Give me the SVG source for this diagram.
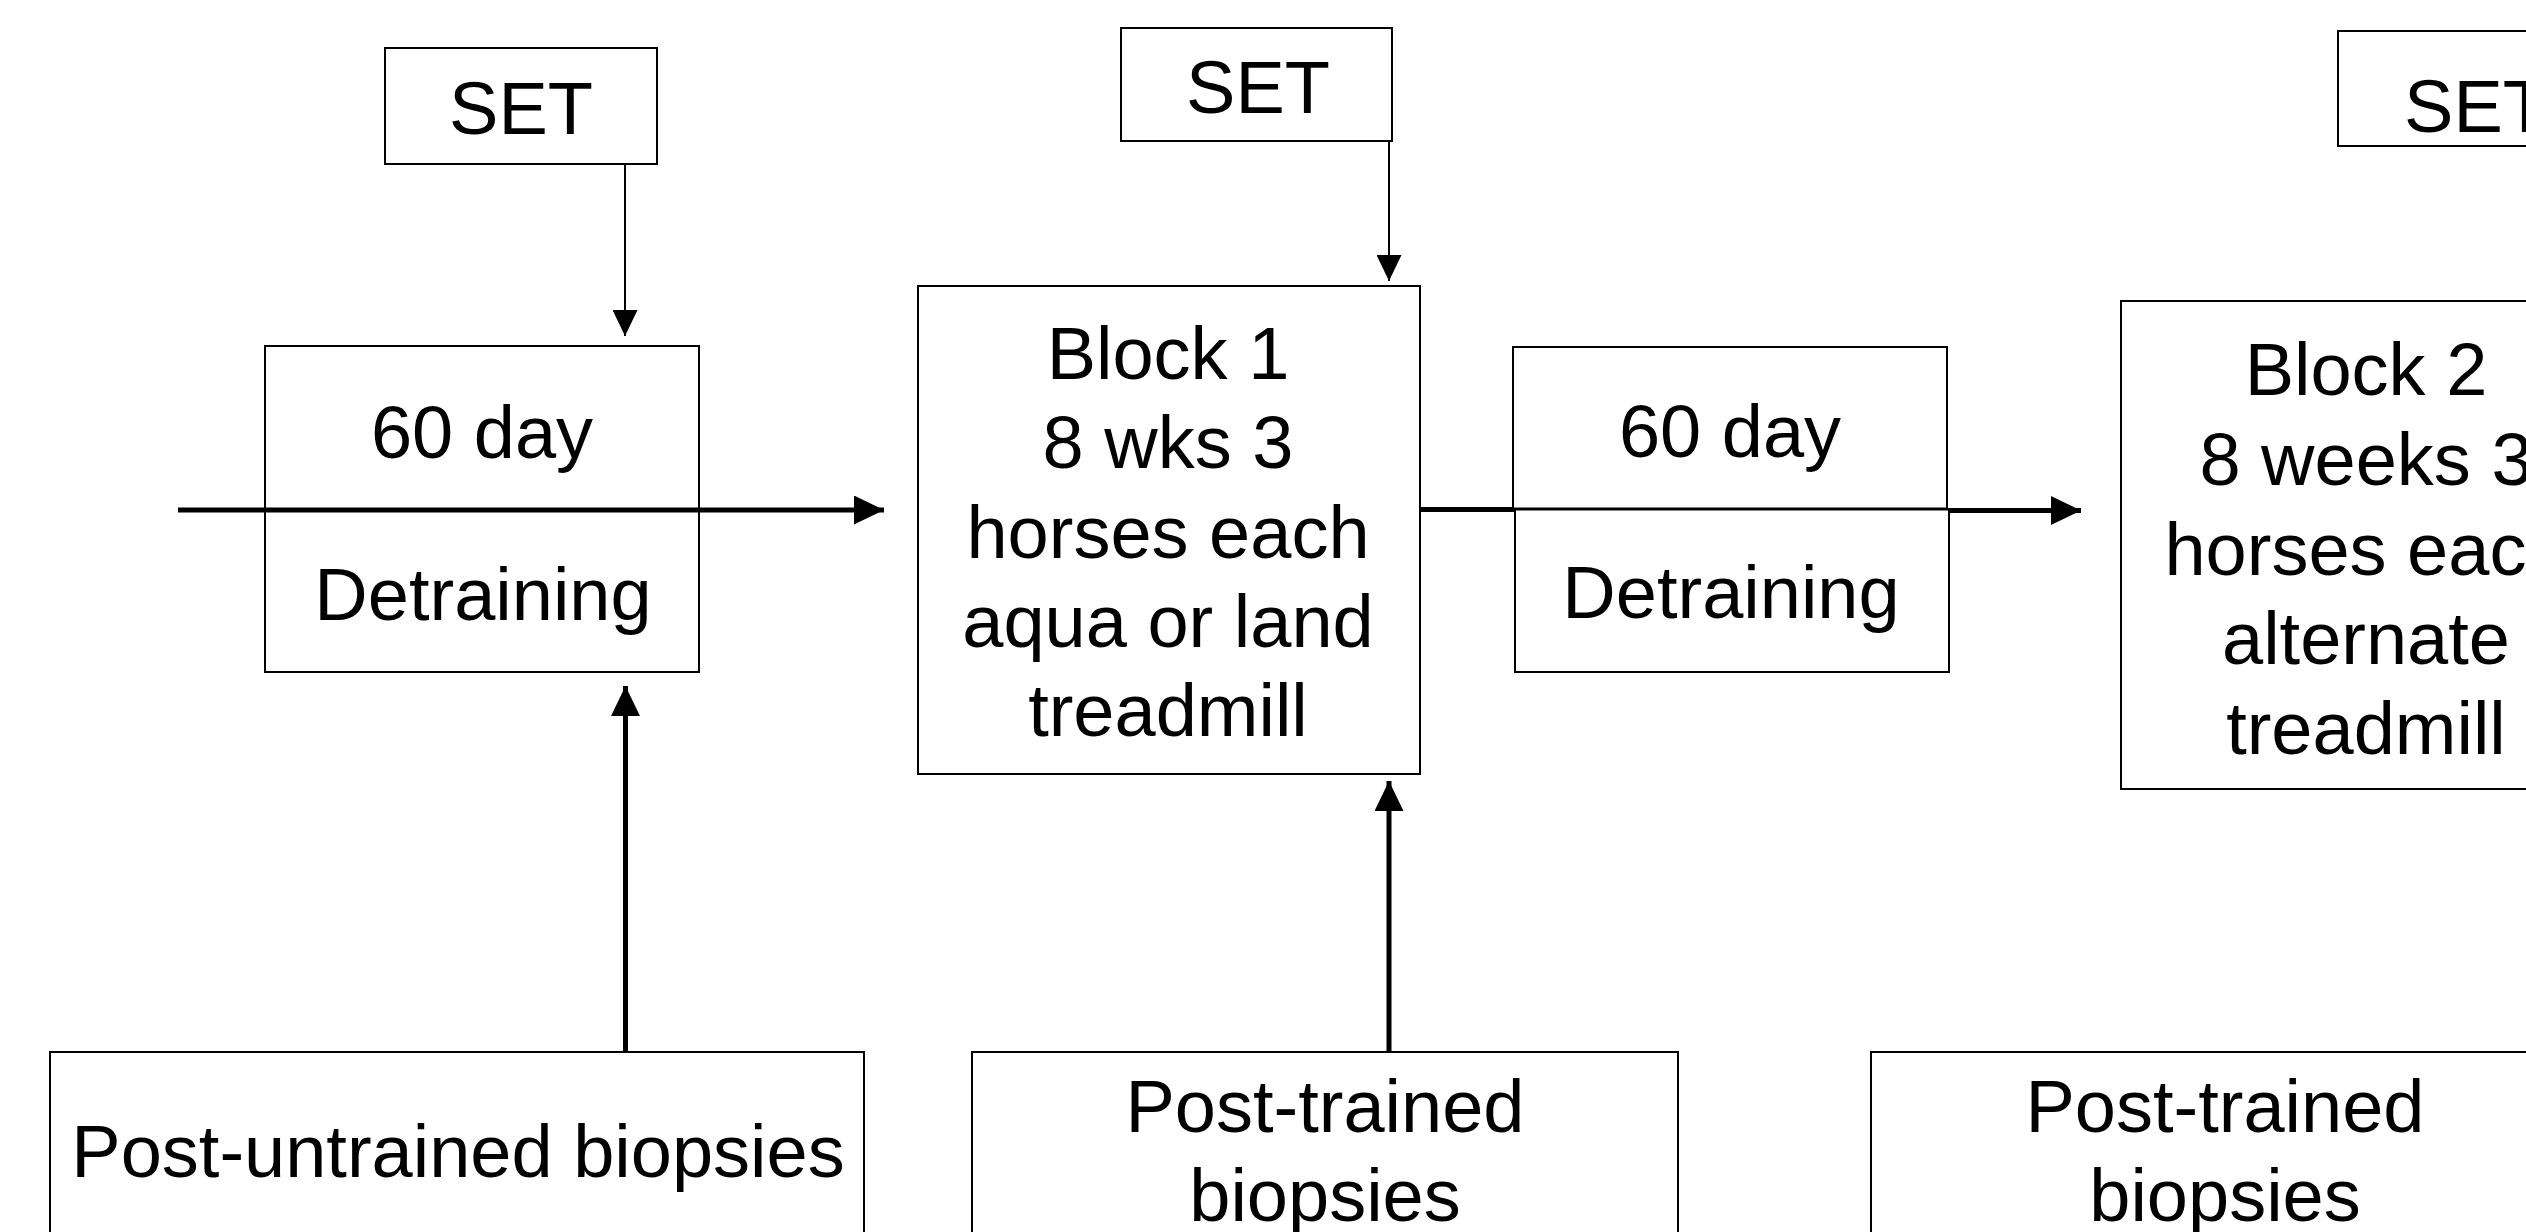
<svg xmlns="http://www.w3.org/2000/svg" width="2526" height="1232" viewBox="0 0 2526 1232">
<style>
.box{fill:#fff;stroke:#000;stroke-width:2}
.t{font-family:"Liberation Sans",Arial,sans-serif;font-size:74px;fill:#000;text-anchor:middle}
.thin{stroke:#000;stroke-width:2;fill:none}
.thick{stroke:#000;stroke-width:5;fill:none}
</style>
<defs>
<marker id="ah" viewBox="0 0 26 25" refX="26" refY="12.5" markerWidth="26" markerHeight="25" markerUnits="userSpaceOnUse" orient="auto"><path d="M0,0L26,12.5L0,25Z" fill="#000"/></marker>
<marker id="ahb" viewBox="0 0 30 29" refX="30" refY="14.5" markerWidth="30" markerHeight="29" markerUnits="userSpaceOnUse" orient="auto"><path d="M0,0L30,14.5L0,29Z" fill="#000"/></marker>
</defs>
<rect width="2526" height="1232" fill="#fff"/>
<g id="set1"><rect class="box" x="385" y="48" width="272" height="116"/><text class="t" x="521" y="134">SET</text></g>
<g id="set2"><rect class="box" x="1121" y="28" width="271" height="113"/><text class="t" x="1258" y="113">SET</text></g>
<g id="set3"><rect class="box" x="2338" y="31" width="290" height="115"/><text class="t" x="2476" y="132">SET</text></g>
<g id="detraining1"><rect class="box" x="265" y="346" width="434" height="164"/><rect class="box" x="265" y="510" width="434" height="162"/><text class="t" x="482" y="458">60 day</text><text class="t" x="483" y="620">Detraining</text></g>
<g id="block1"><rect class="box" x="918" y="286" width="502" height="488"/>
<text class="t" x="1168" y="379">Block 1</text><text class="t" x="1168" y="468">8 wks 3</text><text class="t" x="1168" y="558">horses each</text><text class="t" x="1168" y="647">aqua or land</text><text class="t" x="1168" y="736">treadmill</text></g>
<g id="detraining2"><rect class="box" x="1513" y="347" width="434" height="161.5"/><rect class="box" x="1515" y="509.5" width="434" height="162.5"/><text class="t" x="1730" y="457">60 day</text><text class="t" x="1731" y="618">Detraining</text></g>
<g id="block2"><rect class="box" x="2121" y="301" width="500" height="488"/>
<text class="t" x="2366" y="395">Block 2</text><text class="t" x="2366" y="485">8 weeks 3</text><text class="t" x="2366" y="575">horses each</text><text class="t" x="2366" y="664">alternate</text><text class="t" x="2366" y="754">treadmill</text></g>
<g id="biopsyA"><rect class="box" x="50" y="1052" width="814" height="220"/><text class="t" x="458" y="1177">Post-untrained biopsies</text></g>
<g id="biopsyB"><rect class="box" x="972" y="1052" width="706" height="220"/><text class="t" x="1325" y="1132">Post-trained</text><text class="t" x="1325" y="1221">biopsies</text></g>
<g id="biopsyC"><rect class="box" x="1871" y="1052" width="708" height="220"/><text class="t" x="2225" y="1132">Post-trained</text><text class="t" x="2225" y="1221">biopsies</text></g>
<g id="connectors">
<line class="thin" x1="625" y1="164" x2="625" y2="336" marker-end="url(#ah)"/>
<line class="thin" x1="1389" y1="141" x2="1389" y2="281" marker-end="url(#ah)"/>
<line class="thick" x1="178" y1="510" x2="884" y2="510" marker-end="url(#ahb)"/>
<line class="thick" x1="1420" y1="509.5" x2="1514" y2="509.5"/>
<line class="thick" x1="1948" y1="510.5" x2="2081" y2="510.5" marker-end="url(#ahb)"/>
<line class="thick" x1="625.5" y1="1051" x2="625.5" y2="686" marker-end="url(#ahb)"/>
<line class="thick" x1="1389" y1="1051" x2="1389" y2="781" marker-end="url(#ahb)"/>
</g>
</svg>
